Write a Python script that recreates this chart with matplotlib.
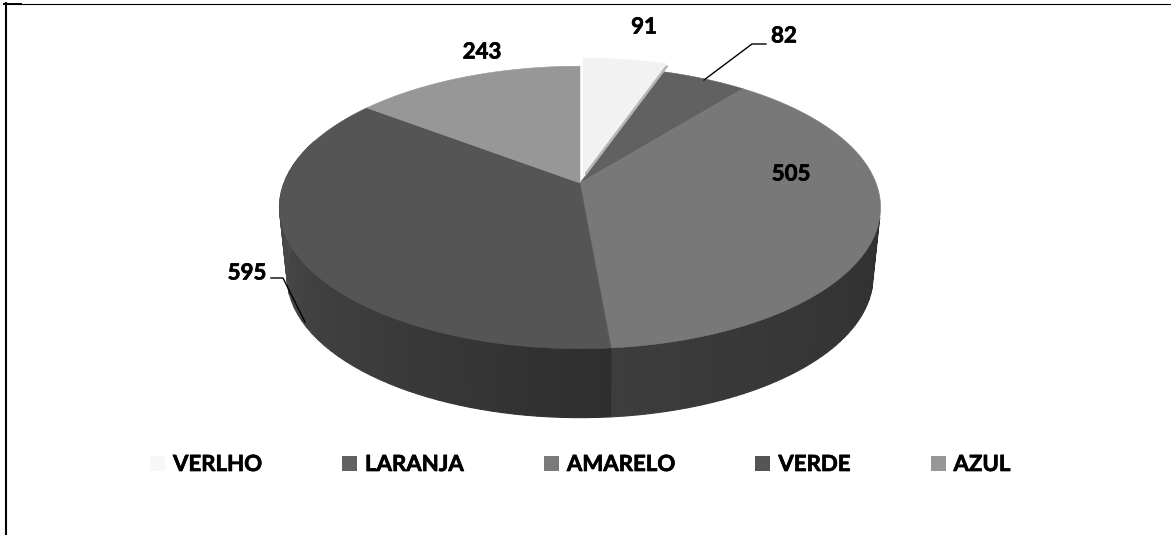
import numpy as np
import matplotlib
matplotlib.use("Agg")
import matplotlib.pyplot as plt
import matplotlib.patheffects as pe
from matplotlib.patches import Patch, Polygon

plt.rcParams["font.family"] = ["Lato", "DejaVu Sans"]

categories = ["VERLHO", "LARANJA", "AMARELO", "VERDE", "AZUL"]
values = [91, 82, 505, 595, 243]
top_colors = ["#f2f2f2", "#616161", "#787878", "#555555", "#979797"]
legend_colors = ["#f7f7f7", "#616161", "#7a7a7a", "#555555", "#979797"]

# grey level of the wall at both ends of its visible part
wall_shades = {2: (0x31, 0x3d), 3: (0x2e, 0x4e)}

# pie geometry in image pixels
CX, CY = 580, 183
RX, RY = 296, 137
PERSP = 0.173
DEPTH = 69
WALL_SCALE = 0.975
FONT = 16
HEAVY = [pe.withStroke(linewidth=0.5, foreground="black")]


def warp(deg):
    # excel's 3d view doesn't keep the angles exactly
    t = np.radians(deg)
    return deg + 5 * (1 - np.cos(t)) + 2.72 * np.sin(t) - 5.5 * np.sin(2 * t)


def rim(deg):
    t = np.radians(warp(np.asarray(deg, dtype=float)))
    X, Y = np.sin(t), np.cos(t)
    w = 1 + PERSP * Y
    return CX + RX * X / w, CY - RY * Y / w


fig = plt.figure(figsize=(11.71, 5.35), dpi=100)
ax = fig.add_axes([0, 0, 1, 1])
ax.set_xlim(0, 1171)
ax.set_ylim(535, 0)
ax.axis("off")

# frame of the original page
ax.plot([5.5, 5.5], [2, 535], color="black", lw=1.5, solid_capstyle="butt")
ax.plot([3, 1171], [3.5, 3.5], color="black", lw=0.8, solid_capstyle="butt")
ax.plot([3, 22], [4, 4], color="black", lw=1.4, solid_capstyle="butt")

edges = np.concatenate([[0], np.cumsum(values)]) / sum(values) * 360

# side wall, drawn as thin strips for the shading
for i, (g0, g1) in wall_shades.items():
    a0, a1 = max(edges[i], 95), min(edges[i + 1], 285)
    steps = np.linspace(a0, a1, 50)
    for s0, s1 in zip(steps[:-1], steps[1:]):
        x0, y0 = rim(s0)
        x1, y1 = rim(s1)
        bx0, bx1 = CX + WALL_SCALE * (x0 - CX), CX + WALL_SCALE * (x1 - CX)
        g = g0 + (g1 - g0) * (s0 - a0) / (a1 - a0)
        c = (g / 255,) * 3
        ax.add_patch(Polygon([(x0, y0), (x1, y1), (bx1, y1 + DEPTH), (bx0, y0 + DEPTH)],
                             closed=True, fc=c, ec=c, lw=0.8))

# top faces, the exploded slice goes last
for i in [1, 2, 3, 4, 0]:
    xs, ys = rim(np.linspace(edges[i], edges[i + 1], 200))
    dx, dy = (3, -8) if i == 0 else (0, 0)
    pts = np.column_stack([np.r_[CX, xs] + dx, np.r_[CY, ys] + dy])
    if i == 0:
        ax.add_patch(Polygon(pts + [2, 2], closed=True, fc="#b4b4b4", ec="none"))
    ax.add_patch(Polygon(pts, closed=True, fc=top_colors[i], ec=top_colors[i], lw=0.4))

# leader lines
ax.plot([704, 752, 766], [80, 44, 44], color="black", lw=1)
ax.plot([271, 283, 305], [278, 278, 322], color="black", lw=1)

label_pos = [(644, 27), (784, 36), (791, 174), (247, 273), (482, 52)]
for v, (x, y) in zip(values, label_pos):
    ax.text(x, y, str(v), ha="center", va="center", fontsize=FONT, fontweight="bold",
            color="black", path_effects=HEAVY)

handles = [Patch(fc=c, ec="none") for c in legend_colors]
leg = ax.legend(handles, categories, ncol=5, frameon=False, loc="lower left",
                bbox_to_anchor=(150 / 1171, 1 - 475 / 535), borderaxespad=0, borderpad=0,
                prop={"family": "Lato", "weight": "bold", "size": FONT},
                handlelength=0.675, handleheight=0.675, handletextpad=0.36, columnspacing=3.6)
for t in leg.get_texts():
    t.set_path_effects(HEAVY)

fig.savefig("out.png", dpi=100)
